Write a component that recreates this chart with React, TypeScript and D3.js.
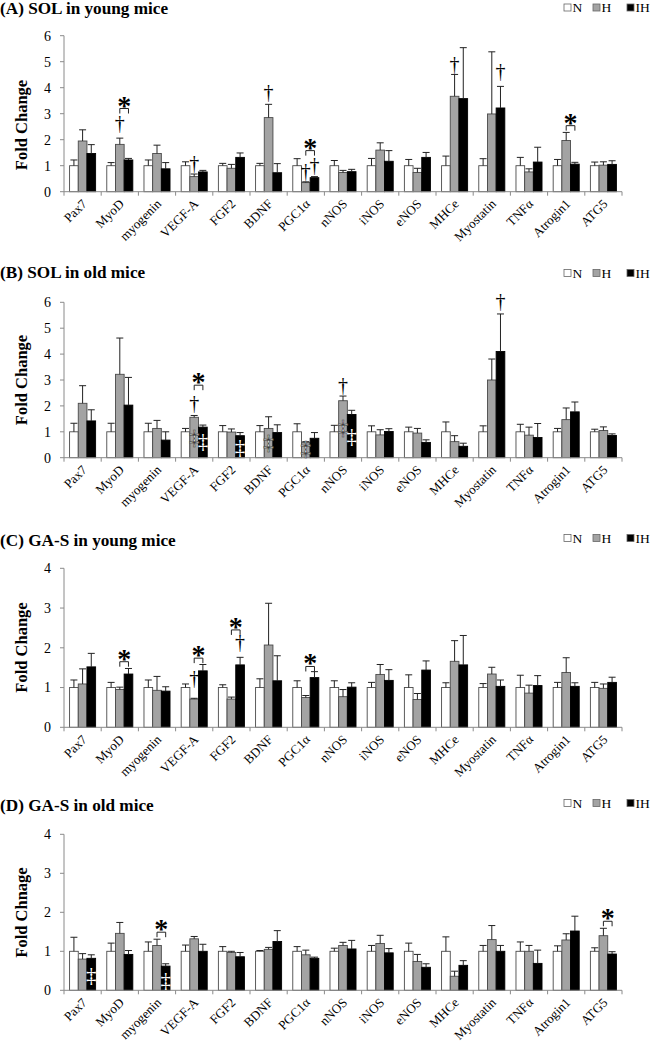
import React from "react";
import * as d3 from "d3";

const categories = ["Pax7","MyoD","myogenin","VEGF-A","FGF2","BDNF","PGC1α","nNOS","iNOS","eNOS","MHCe","Myostatin","TNFα","Atrogin1","ATG5"];
const groups = ["N","H","IH"];

// Panel A: SOL in young mice
const A_N = [1,1,1,1,1,1,1,1,1,1,1,1,1,1,1];
const A_N_sd = [0.22,0.12,0.22,0.15,0.09,0.09,0.27,0.2,0.28,0.24,0.37,0.27,0.32,0.24,0.14];
const A_H = [1.95,1.82,1.47,0.58,0.9,2.85,0.35,0.74,1.6,0.74,3.67,2.99,0.76,1.97,1.02];
const A_H_sd = [0.43,0.24,0.32,0.1,0.15,0.51,0.03,0.08,0.28,0.16,0.84,2.39,0.12,0.31,0.13];
const A_IH = [1.47,1.22,0.88,0.76,1.32,0.73,0.54,0.77,1.17,1.32,3.58,3.22,1.14,1.06,1.05];
const A_IH_sd = [0.34,0.06,0.24,0.06,0.17,0.35,0.04,0.09,0.41,0.19,1.96,0.83,0.57,0.07,0.14];

// Panel B: SOL in old mice
const B_N = [1,1,1,1,1,1,1,1,1,1,1,1,1,1,1];
const B_N_sd = [0.33,0.33,0.33,0.13,0.24,0.24,0.31,0.25,0.23,0.18,0.38,0.23,0.29,0.13,0.1];
const B_H = [2.1,3.22,1.13,1.56,0.99,1.13,0.58,2.2,0.88,0.95,0.62,3.0,0.87,1.47,1.05];
const B_H_sd = [0.68,1.4,0.31,0.07,0.12,0.45,0.04,0.18,0.2,0.18,0.23,0.81,0.31,0.45,0.14];
const B_IH = [1.42,2.03,0.68,1.18,0.85,0.97,0.75,1.67,1.01,0.59,0.44,4.1,0.78,1.77,0.86];
const B_IH_sd = [0.43,1.07,0.32,0.08,0.12,0.3,0.22,0.16,0.11,0.1,0.12,1.45,0.54,0.38,0.06];

// Panel C: GA-S in young mice
const C_N = [1,1,1,1,1,1,1,1,1,1,1,1,1,1,1];
const C_N_sd = [0.19,0.13,0.19,0.09,0.07,0.22,0.17,0.17,0.13,0.32,0.12,0.1,0.31,0.13,0.13];
const C_H = [1.09,0.95,0.93,0.71,0.71,2.07,0.75,0.77,1.33,0.7,1.66,1.34,0.86,1.38,0.98];
const C_H_sd = [0.38,0.06,0.35,0.02,0.05,1.05,0.05,0.18,0.25,0.15,0.52,0.17,0.2,0.37,0.11];
const C_IH = [1.52,1.34,0.91,1.42,1.57,1.17,1.25,1.01,1.18,1.44,1.57,1.03,1.05,1.03,1.13];
const C_IH_sd = [0.34,0.14,0.11,0.16,0.19,0.63,0.15,0.11,0.27,0.23,0.74,0.16,0.25,0.09,0.13];

// Panel D: GA-S in old mice
const D_N = [1,1,1,1,1,1,1,1,1,1,1,1,1,1,1];
const D_N_sd = [0.36,0.21,0.24,0.16,0.12,0.02,0.12,0.08,0.15,0.21,0.37,0.15,0.24,0.14,0.09];
const D_H = [0.8,1.46,1.15,1.32,0.97,1.05,0.91,1.15,1.2,0.74,0.36,1.3,1.0,1.29,1.4];
const D_H_sd = [0.14,0.28,0.16,0.06,0.03,0.05,0.12,0.08,0.21,0.18,0.13,0.36,0.15,0.16,0.19];
const D_IH = [0.82,0.92,0.62,1.0,0.86,1.25,0.82,1.06,0.96,0.59,0.64,1.0,0.69,1.52,0.93];
const D_IH_sd = [0.09,0.1,0.06,0.18,0.11,0.28,0.03,0.22,0.11,0.09,0.12,0.15,0.34,0.38,0.06];

// annotations: category index, group index, value
const A_dagger = [[1,1,2.6],[3,1,1.06],[5,1,3.78],[6,1,0.74],[6,2,1.0],[10,1,4.88],[11,2,4.59]];
const A_bracket = [[1,3.2],[6,1.58],[13,2.54]];
const A_ddagger: number[][] = [];
const B_dagger = [[3,1,2.07],[7,1,2.76],[11,2,6.03]];
const B_bracket = [[3,2.8]];
const B_ddagger = [[3,1,0.78],[3,2,0.62],[4,2,0.42],[5,1,0.58],[6,1,0.36],[7,1,1.19],[7,2,0.83]];
const C_dagger = [[3,1,1.22],[4,2,2.11]];
const C_bracket = [[1,1.65],[3,1.74],[4,2.45],[6,1.53]];
const C_ddagger: number[][] = [];
const D_dagger: number[][] = [];
const D_bracket = [[2,1.49],[14,1.77]];
const D_ddagger = [[0,2,0.39],[2,2,0.26]];

const A_ticks = [0,1,2,3,4,5,6];
const B_ticks = [0,1,2,3,4,5,6];
const C_ticks = [0,1,2,3,4];
const D_ticks = [0,1,2,3,4];

const panels = [
  { title: "(A) SOL in young mice", yLabel: "Fold Change", yMax: 6, ticks: A_ticks, top: 35.7, base: 191.7, titleY: 14, legendY: 7.5, labelCY: 125,
    vals: [A_N, A_H, A_IH], sds: [A_N_sd, A_H_sd, A_IH_sd], dag: A_dagger, br: A_bracket, dd: A_ddagger },
  { title: "(B) SOL in old mice", yLabel: "Fold Change", yMax: 6, ticks: B_ticks, top: 302.3, base: 457.7, titleY: 278, legendY: 273, labelCY: 380,
    vals: [B_N, B_H, B_IH], sds: [B_N_sd, B_H_sd, B_IH_sd], dag: B_dagger, br: B_bracket, dd: B_ddagger },
  { title: "(C) GA-S in young mice", yLabel: "Fold Change", yMax: 4, ticks: C_ticks, top: 568.3, base: 727.3, titleY: 545.5, legendY: 538, labelCY: 647.5,
    vals: [C_N, C_H, C_IH], sds: [C_N_sd, C_H_sd, C_IH_sd], dag: C_dagger, br: C_bracket, dd: C_ddagger },
  { title: "(D) GA-S in old mice", yLabel: "Fold Chnage", yMax: 4, ticks: D_ticks, top: 834.3, base: 990.3, titleY: 811, legendY: 803, labelCY: 912.5,
    vals: [D_N, D_H, D_IH], sds: [D_N_sd, D_H_sd, D_IH_sd], dag: D_dagger, br: D_bracket, dd: D_ddagger },
];

const FONT = "'Liberation Serif', 'Times New Roman', serif";
const fills = ["#ffffff", "#a3a3a3", "#000000"];
const AXIS = "#8a8a8a";
const X0 = 64, X1 = 622;

function Panel({ p }: { p: any }) {
  const x = d3.scaleBand<string>().domain(categories).range([X0, X1]).paddingInner(0.3).paddingOuter(0.15);
  const xs = d3.scaleBand<string>().domain(groups).range([0, x.bandwidth()]);
  const y = d3.scaleLinear().domain([0, p.yMax]).range([p.base, p.top]);
  const step = x.step();
  const cx = (ci: number, gi: number) => (x(categories[ci]) as number) + (xs(groups[gi]) as number) + xs.bandwidth() / 2;
  return (
    <g>
      <text x={0} y={p.titleY} fontFamily={FONT} fontWeight="bold" fontSize={17.2} fill="#000">{p.title}</text>
      {/* legend */}
      {groups.map((g, i) => {
        const lx = [564, 593, 627][i];
        return (
          <g key={g}>
            <rect x={lx} y={p.legendY - 3.5} width={7} height={7} fill={fills[i]} stroke="#666" strokeWidth={0.8} />
            <text x={lx + 8.5} y={p.legendY + 4.5} fontFamily={FONT} fontSize={13.5} fill="#000">{g}</text>
          </g>
        );
      })}
      {/* y label */}
      <text transform={`translate(26.5,${p.labelCY}) rotate(-90)`} textAnchor="middle" fontFamily={FONT} fontWeight="bold" fontSize={16.5} fill="#000">{p.yLabel}</text>
      {/* y axis */}
      <line x1={X0} x2={X0} y1={p.top} y2={p.base} stroke={AXIS} strokeWidth={1} />
      {p.ticks.map((t: number) => (
        <g key={t}>
          <line x1={X0 - 4} x2={X0} y1={y(t)} y2={y(t)} stroke={AXIS} />
          <text x={51} y={y(t)} dy="0.35em" textAnchor="end" fontFamily={FONT} fontSize={14} fill="#000">{t}</text>
        </g>
      ))}
      {/* bars */}
      {categories.map((c, ci) => groups.map((g, gi) => {
        const v = p.vals[gi][ci];
        const bx = (x(c) as number) + (xs(g) as number);
        return (
          <rect key={c + g} x={bx} y={y(v)} width={xs.bandwidth()} height={y(0) - y(v)} fill={fills[gi]} stroke={gi === 2 ? "#000" : "#4a4a4a"} strokeWidth={0.9} />
        );
      }))}
      {/* error bars */}
      {categories.map((c, ci) => groups.map((g, gi) => {
        const v = p.vals[gi][ci];
        const e = v + p.sds[gi][ci];
        const mx = cx(ci, gi);
        return (
          <g key={"e" + c + g} stroke="#222" strokeWidth={1}>
            <line x1={mx} x2={mx} y1={y(v)} y2={y(e)} />
            <line x1={mx - 3.5} x2={mx + 3.5} y1={y(e)} y2={y(e)} />
          </g>
        );
      }))}
      {/* x axis */}
      <line x1={X0} x2={X1} y1={p.base} y2={p.base} stroke={AXIS} />
      {d3.range(categories.length + 1).map((i) => (
        <line key={"t" + i} x1={X0 + i * step} x2={X0 + i * step} y1={p.base} y2={p.base + 4} stroke={AXIS} />
      ))}
      {categories.map((c) => {
        const mx = (x(c) as number) + x.bandwidth() / 2;
        return (
          <text key={"l" + c} transform={`translate(${mx + 5},${p.base + 13}) rotate(-45)`} textAnchor="end" fontFamily={FONT} fontSize={13} fill="#000">{c}</text>
        );
      })}
      {/* daggers */}
      {p.dag.map((d: number[], i: number) => (
        <text key={"d" + i} x={cx(d[0], d[1])} y={y(d[2])} dy="0.3em" textAnchor="middle" fontFamily={FONT} fontSize={20} fill="#000">†</text>
      ))}
      {/* double daggers */}
      {p.dd.map((d: number[], i: number) => (
        <text key={"dd" + i} x={cx(d[0], d[1])} y={y(d[2])} dy="0.32em" textAnchor="middle" fontFamily={FONT} fontSize={21}
          fill="#fff" stroke={d[1] === 1 ? "#333" : "none"} strokeWidth={0.6}>‡</text>
      ))}
      {/* brackets */}
      {p.br.map((b: number[], i: number) => {
        const x1 = cx(b[0], 1), x2 = cx(b[0], 2);
        const yt = y(b[1]);
        return (
          <g key={"b" + i}>
            <path d={`M${x1},${yt + 5}V${yt}H${x2}V${yt + 5}`} fill="none" stroke="#222" strokeWidth={1} />
            <text x={(x1 + x2) / 2} y={yt - 8} dy="0.5em" textAnchor="middle" fontFamily={FONT} fontWeight="bold" fontSize={28} fill="#000">*</text>
          </g>
        );
      })}
    </g>
  );
}

export default function App() {
  return (
    <svg width={660} height={1048} style={{ position: "absolute", left: 0, top: 0, background: "#fff" }}>
      <rect x={0} y={0} width={660} height={1048} fill="#fff" />
      {panels.map((p, i) => <Panel key={i} p={p} />)}
    </svg>
  );
}
